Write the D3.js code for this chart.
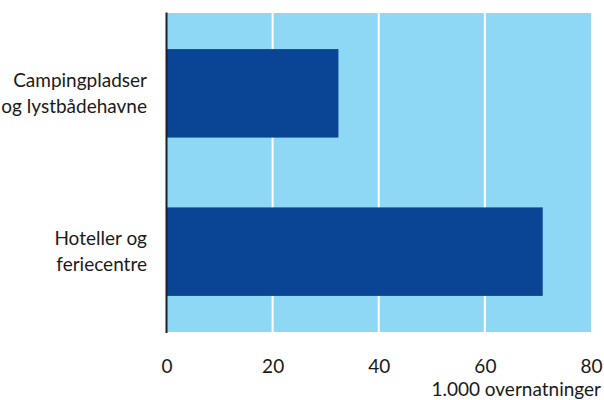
<!DOCTYPE html>
<html>
<head>
<meta charset="utf-8">
<script src="https://cdn.jsdelivr.net/npm/d3@7"></script>
<style>
  body { margin: 0; background: #fff; }
  text { font-family: Lato, "Open Sans", sans-serif; fill: #1a1a1a; }
</style>
</head>
<body>
<svg id="chart" width="604" height="400"></svg>
<script>
const categories = [["Campingpladser", "og lystbådehavne"], ["Hoteller og", "feriecentre"]];
const values = [32.4, 70.9];
const tickValues = [0, 20, 40, 60, 80];
const unitLabel = "1.000 overnatninger";

const svg = d3.select("#chart");
const plotLeft = 166.5, plotRight = 591, plotTop = 13, plotBottom = 332;

const x = d3.scaleLinear().domain([0, 80]).range([plotLeft, plotRight]);
const y = d3.scaleBand().domain(d3.range(categories.length)).range([plotTop, plotBottom])
  .paddingInner(0.441).paddingOuter(0.228);

// background
svg.append("rect").attr("x", x(0)).attr("y", plotTop)
  .attr("width", x(80) - x(0)).attr("height", plotBottom - plotTop)
  .attr("fill", "#8fd8f5");

// gridlines
svg.append("g").selectAll("line").data(tickValues.filter(d => d > 0 && d < 80)).join("line")
  .attr("x1", d => x(d)).attr("x2", d => x(d))
  .attr("y1", plotTop).attr("y2", plotBottom)
  .attr("stroke", "#ffffff").attr("stroke-width", 2);

// bars
svg.append("g").selectAll("rect").data(values).join("rect")
  .attr("x", x(0)).attr("y", (d, i) => y(i))
  .attr("width", d => x(d) - x(0)).attr("height", y.bandwidth())
  .attr("fill", "#0a4494");

// left axis line
svg.append("line").attr("x1", x(0)).attr("x2", x(0))
  .attr("y1", plotTop - 0.5).attr("y2", plotBottom + 1)
  .attr("stroke", "#231f20").attr("stroke-width", 2);

// x axis tick labels
const xAxis = d3.axisBottom(x).tickValues(tickValues).tickSize(0).tickPadding(0).tickFormat(d3.format("d"));
const gx = svg.append("g").attr("transform", `translate(0, ${plotBottom})`).call(xAxis);
gx.select(".domain").remove();
gx.selectAll("text").attr("y", 41).attr("dy", null)
  .style("font-family", "Lato, 'Open Sans', sans-serif").style("font-size", "19px").attr("fill", "#1a1a1a");

// unit label
svg.append("text").attr("x", 601).attr("y", 396).attr("text-anchor", "end")
  .style("font-size", "19px").text(unitLabel);

// category labels
const lbl = svg.append("g").selectAll("text").data(categories).join("text")
  .attr("text-anchor", "end").style("font-size", "19px")
  .attr("transform", (d, i) => `translate(147, ${y(i) + y.bandwidth() / 2})`);
lbl.selectAll("tspan").data(d => d).join("tspan")
  .attr("x", 0).attr("y", (d, j, arr) => (j - (arr.length - 1) / 2) * 26 + 6.5)
  .text(d => d);
</script>
</body>
</html>
